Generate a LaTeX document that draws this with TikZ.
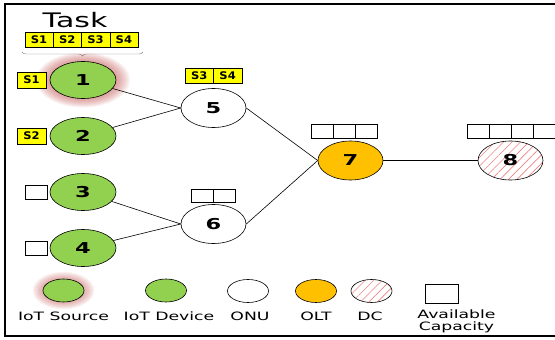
\documentclass[tikz,border=0pt]{standalone}
\usepackage{fontspec}
\setmainfont[FakeStretch=1.5]{DejaVu Sans}
\newfontfamily\labfont[FakeStretch=1.1]{DejaVu Sans}
\usetikzlibrary{shapes.geometric,positioning,patterns.meta,decorations.pathreplacing}
\definecolor{iotgreen}{HTML}{92D050}
\definecolor{oltorange}{HTML}{FFC000}
\definecolor{taskyellow}{HTML}{FFFF00}
\definecolor{hatchred}{HTML}{F08080}
\definecolor{glowred}{HTML}{C0504D}

\begin{document}
\begin{tikzpicture}[x=1pt,y=-1pt,
  dev/.style={ellipse,draw,line width=0.6pt,fill=iotgreen,minimum width=66pt,minimum height=37pt,inner sep=0pt,font=\fontsize{15}{15}\selectfont\bfseries},
  onu/.style={dev,fill=white,minimum width=65pt,minimum height=39pt},
  olt/.style={onu,fill=oltorange},
  dc/.style={onu,fill=none,pattern={Lines[angle=45,distance=6pt,line width=0.6pt]},pattern color=hatchred},
  leg/.style={minimum width=41pt,minimum height=23pt},
  sbox/.style={draw,fill=taskyellow,minimum width=28.3pt,minimum height=15.5pt,inner sep=0pt,outer sep=0pt,font=\labfont\fontsize{10.5}{10.5}\selectfont\bfseries},
  freebox/.style={draw,fill=white,minimum width=22pt,minimum height=13.5pt,inner sep=0pt,outer sep=0pt},
  link/.style={line width=0.6pt},
  legtext/.style={font=\fontsize{11.5}{12}\selectfont,inner sep=0pt,align=center}
]
\useasboundingbox (0,0) rectangle (555,340);
\draw[line width=1.6pt] (556,4) -- (5,4) -- (5,336) -- (556,336);

% task and its subtasks
\node[font=\fontsize{20}{20}\selectfont,inner sep=0pt] (task) at (75,20) {Task};
\node[sbox] (t1) at (39,39.5) {S1};
\node[sbox,right=0pt of t1] (t2) {S2};
\node[sbox,right=0pt of t2] (t3) {S3};
\node[sbox,right=0pt of t3] (t4) {S4};
\draw[gray,decorate,decoration={brace,mirror,amplitude=4pt}] (22,52) -- (143,52);

% glow of the IoT source
\foreach \k in {1,...,10}
  \fill[glowred,opacity=0.07] (83,80) ellipse ({33pt+1.4pt*\k} and {18.5pt+0.9pt*\k});

\node[dev] (n1) at (83,80) {1};
\node[dev] (n2) at (83,136) {2};
\node[dev] (n3) at (83,192) {3};
\node[dev] (n4) at (83,248) {4};
\node[onu] (n5) at (213.5,108) {5};
\node[onu] (n6) at (213.5,224) {6};
\node[olt] (n7) at (350.5,160.5) {7};
\node[dc] (n8) at (510.5,160.5) {8};

% capacities
\node[sbox,left=4pt of n1] (s1) {S1};
\node[sbox,left=4pt of n2] (s2) {S2};
\node[freebox,left=3pt of n3] (f3) {};
\node[freebox,left=3pt of n4] (f4) {};
\node[sbox,above=5pt of n5,xshift=-14.15pt] (c5a) {S3};
\node[sbox,right=0pt of c5a] (c5b) {S4};
\node[freebox,above=2pt of n6,xshift=-11pt] (c6a) {};
\node[freebox,right=0pt of c6a] (c6b) {};
\node[freebox,above=3pt of n7,xshift=-28.5pt] (c7a) {};
\node[freebox,right=0pt of c7a] (c7b) {};
\node[freebox,right=0pt of c7b] (c7c) {};
\node[freebox,above=3pt of n8,xshift=-32.5pt] (c8a) {};
\node[freebox,right=0pt of c8a] (c8b) {};
\node[freebox,right=0pt of c8b] (c8c) {};
\node[freebox,right=0pt of c8c] (c8d) {};

\draw[link] (n1) -- (n5.west);
\draw[link] (n2) -- (n5.west);
\draw[link] (n3) -- (n6.west);
\draw[link] (n4) -- (n6.west);
\draw[link] (n5.east) -- (n7.west);
\draw[link] (n6.east) -- (n7.west);
\draw[link] (n7) -- (n8);

% legend
\foreach \k in {1,...,8}
  \fill[glowred,opacity=0.07] (63.5,290.5) ellipse ({20.5pt+1.3pt*\k} and {11.5pt+0.9pt*\k});
\node[dev,leg] (lsrc) at (63.5,290.5) {};
\node[dev,leg] (ldev) at (166,290.5) {};
\node[onu,leg] (lonu) at (248,291) {};
\node[olt,leg] (lolt) at (316,291) {};
\node[dc,leg] (ldc) at (371.5,291) {};
\node[freebox,minimum width=33pt,minimum height=19pt] (lcap) at (441.5,293.5) {};
\node[legtext,below=9pt of lsrc] {IoT Source};
\node[legtext,below=9pt of ldev,xshift=3pt] {IoT Device};
\node[legtext,below=9pt of lonu,xshift=2pt] {ONU};
\node[legtext,below=9pt of lolt] {OLT};
\node[legtext,below=9pt of ldc,xshift=-1.5pt] {DC};
\node[legtext,below=7pt of lcap,xshift=15pt] {Available\\Capacity};
\end{tikzpicture}
\end{document}
